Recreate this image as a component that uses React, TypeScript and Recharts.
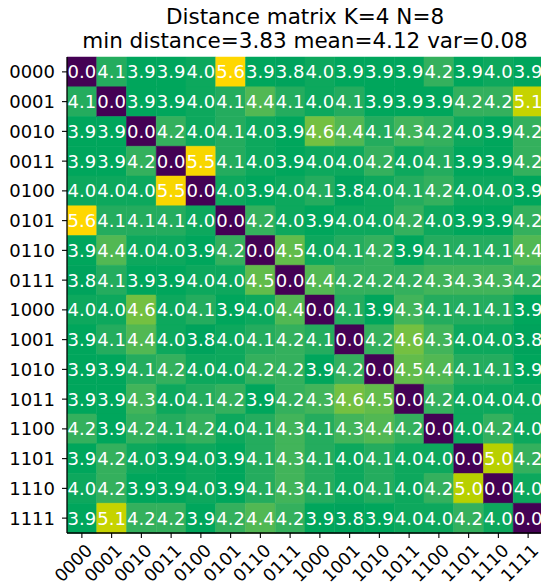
import React from 'react';
import { BarChart, Bar, XAxis, YAxis, Cell, LabelList } from 'recharts';

const labels = ['0000', '0001', '0010', '0011', '0100', '0101', '0110', '0111', '1000', '1001', '1010', '1011', '1100', '1101', '1110', '1111'];

const r0000 = [0.0, 4.1, 3.9, 3.9, 4.0, 5.6, 3.9, 3.8, 4.0, 3.9, 3.9, 3.9, 4.2, 3.9, 4.0, 3.9];
const r0001 = [4.1, 0.0, 3.9, 3.9, 4.0, 4.1, 4.4, 4.1, 4.0, 4.1, 3.9, 3.9, 3.9, 4.2, 4.2, 5.1];
const r0010 = [3.9, 3.9, 0.0, 4.2, 4.0, 4.1, 4.0, 3.9, 4.6, 4.4, 4.1, 4.3, 4.2, 4.0, 3.9, 4.2];
const r0011 = [3.9, 3.9, 4.2, 0.0, 5.5, 4.1, 4.0, 3.9, 4.0, 4.0, 4.2, 4.0, 4.1, 3.9, 3.9, 4.2];
const r0100 = [4.0, 4.0, 4.0, 5.5, 0.0, 4.0, 3.9, 4.0, 4.1, 3.8, 4.0, 4.1, 4.2, 4.0, 4.0, 3.9];
const r0101 = [5.6, 4.1, 4.1, 4.1, 4.0, 0.0, 4.2, 4.0, 3.9, 4.0, 4.0, 4.2, 4.0, 3.9, 3.9, 4.2];
const r0110 = [3.9, 4.4, 4.0, 4.0, 3.9, 4.2, 0.0, 4.5, 4.0, 4.1, 4.2, 3.9, 4.1, 4.1, 4.1, 4.4];
const r0111 = [3.8, 4.1, 3.9, 3.9, 4.0, 4.0, 4.5, 0.0, 4.4, 4.2, 4.2, 4.2, 4.3, 4.3, 4.3, 4.2];
const r1000 = [4.0, 4.0, 4.6, 4.0, 4.1, 3.9, 4.0, 4.4, 0.0, 4.1, 3.9, 4.3, 4.1, 4.1, 4.1, 3.9];
const r1001 = [3.9, 4.1, 4.4, 4.0, 3.8, 4.0, 4.1, 4.2, 4.1, 0.0, 4.2, 4.6, 4.3, 4.0, 4.0, 3.8];
const r1010 = [3.9, 3.9, 4.1, 4.2, 4.0, 4.0, 4.2, 4.2, 3.9, 4.2, 0.0, 4.5, 4.4, 4.1, 4.1, 3.9];
const r1011 = [3.9, 3.9, 4.3, 4.0, 4.1, 4.2, 3.9, 4.2, 4.3, 4.6, 4.5, 0.0, 4.2, 4.0, 4.0, 4.0];
const r1100 = [4.2, 3.9, 4.2, 4.1, 4.2, 4.0, 4.1, 4.3, 4.1, 4.3, 4.4, 4.2, 0.0, 4.0, 4.2, 4.0];
const r1101 = [3.9, 4.2, 4.0, 3.9, 4.0, 3.9, 4.1, 4.3, 4.1, 4.0, 4.1, 4.0, 4.0, 0.0, 5.0, 4.2];
const r1110 = [4.0, 4.2, 3.9, 3.9, 4.0, 3.9, 4.1, 4.3, 4.1, 4.0, 4.1, 4.0, 4.2, 5.0, 0.0, 4.0];
const r1111 = [3.9, 5.1, 4.2, 4.2, 3.9, 4.2, 4.4, 4.2, 3.9, 3.8, 3.9, 4.0, 4.0, 4.2, 4.0, 0.0];

const matrix = [r0000, r0001, r0010, r0011, r0100, r0101, r0110, r0111, r1000, r1001, r1010, r1011, r1100, r1101, r1110, r1111];

const titleLine1 = 'Distance matrix K=4 N=8';
const titleLine2 = 'min distance=3.83 mean=4.12 var=0.08';

// colormap stops (value -> colour)
const colorStops: [number, number[]][] = [
  [0.0, [68, 1, 84]],
  [3.8, [0, 163, 92]],
  [3.9, [0, 166, 92]],
  [4.0, [13, 168, 93]],
  [4.1, [36, 172, 94]],
  [4.2, [52, 176, 93]],
  [4.3, [66, 180, 90]],
  [4.4, [82, 184, 83]],
  [4.5, [98, 188, 75]],
  [4.6, [116, 192, 65]],
  [5.0, [184, 208, 0]],
  [5.1, [198, 211, 0]],
  [5.5, [248, 214, 0]],
  [5.6, [255, 215, 0]],
];

function colorFor(v: number): string {
  for (let k = 0; k < colorStops.length - 1; k++) {
    const [a, ca] = colorStops[k];
    const [b, cb] = colorStops[k + 1];
    if (v <= b) {
      const t = b === a ? 0 : Math.max(0, (v - a) / (b - a));
      const c = ca.map((x, i) => Math.round(x + (cb[i] - x) * t));
      return `rgb(${c[0]},${c[1]},${c[2]})`;
    }
  }
  const c = colorStops[colorStops.length - 1][1];
  return `rgb(${c[0]},${c[1]},${c[2]})`;
}

const data = labels.map((lab, i) => {
  const o: any = { row: lab };
  matrix[i].forEach((v, j) => {
    o[`c${j}`] = 1;
    o[`v${j}`] = v;
  });
  return o;
});

const xTicks = labels.map((_, i) => i + 0.5);

const FONT = 'DejaVu Sans';
const FS = 18;

const XTick = (props: any) => {
  const { x, y, payload } = props;
  const tx = x + 11.5;
  const ty = y + 13.5;
  return (
    <text x={tx} y={ty} textAnchor="end" transform={`rotate(-45, ${tx}, ${ty})`} fontSize={17.5} fontFamily={FONT} fill="#000">
      {labels[Math.floor(payload.value)]}
    </text>
  );
};

const YTick = (props: any) => {
  const { x, y, payload } = props;
  return (
    <text x={x} y={y} dy="0.355em" textAnchor="end" fontSize={FS} fontFamily={FONT} fill="#000">
      {payload.value}
    </text>
  );
};

export default function App() {
  return (
    <div style={{ position: 'absolute', left: 0, top: 0, width: 541, height: 588, overflow: 'hidden', background: '#fff', fontFamily: FONT }}>
      <div style={{ position: 'absolute', left: 0, top: 5, width: 610, textAlign: 'center', fontSize: 21.5, lineHeight: '24px', color: '#000', whiteSpace: 'nowrap' }}>
        <div>{titleLine1}</div>
        <div>{titleLine2}</div>
      </div>
      <BarChart
        width={545}
        height={588}
        data={data}
        layout="vertical"
        margin={{ top: 57, right: 2, bottom: 0, left: 0 }}
        barCategoryGap={0}
        barGap={0}
        style={{ fontFamily: FONT }}
      >
        <XAxis
          type="number"
          domain={[0, 16]}
          ticks={xTicks}
          allowDataOverflow
          tick={<XTick />}
          tickSize={5}
          tickMargin={0}
          tickLine={{ stroke: '#000', strokeWidth: 1.1 }}
          axisLine={{ stroke: '#000', strokeWidth: 1.3 }}
          interval={0}
          height={55}
        />
        <XAxis
          xAxisId="top"
          orientation="top"
          type="number"
          domain={[0, 16]}
          tick={false}
          tickLine={false}
          axisLine={{ stroke: '#000', strokeWidth: 1.3 }}
          height={0}
        />
        <YAxis
          type="category"
          dataKey="row"
          width={67}
          tick={<YTick />}
          tickSize={5}
          tickMargin={7}
          tickLine={{ stroke: '#000', strokeWidth: 1.1 }}
          axisLine={{ stroke: '#000', strokeWidth: 1.3 }}
          interval={0}
        />
        {labels.map((_, j) => (
          <Bar key={j} dataKey={`c${j}`} stackId="m" isAnimationActive={false}>
            {data.map((d, i) => (
              <Cell key={i} fill={colorFor(d[`v${j}`])} stroke={colorFor(d[`v${j}`])} strokeWidth={0.5} />
            ))}
            <LabelList
              dataKey={`v${j}`}
              position="center"
              fill="#fff"
              fontSize={FS}
              fontFamily={FONT}
              formatter={(v: any) => Number(v).toFixed(1)}
            />
          </Bar>
        ))}
      </BarChart>
    </div>
  );
}
